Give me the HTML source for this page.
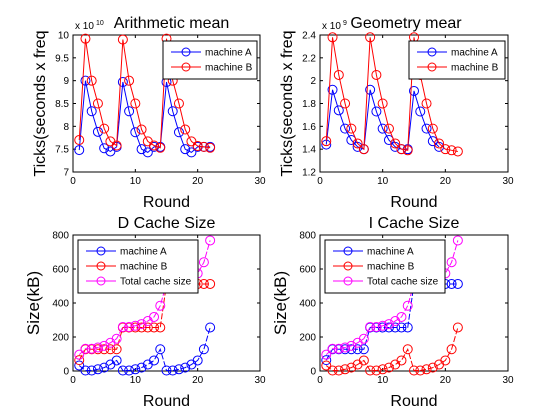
<!DOCTYPE html>
<html><head><meta charset="utf-8"><style>
html,body{margin:0;padding:0;background:#fff;width:560px;height:420px;overflow:hidden}
svg{font-family:"Liberation Sans",sans-serif}
</style></head><body>
<svg id="fig" width="560" height="420"></svg>
<script>
const rounds=[1,2,3,4,5,6,7,8,9,10,11,12,13,14,15,16,17,18,19,20,21,22];
const arithA=[7.48,9.0,8.33,7.88,7.52,7.45,7.55,8.97,8.33,7.87,7.5,7.43,7.55,7.55,8.97,8.33,7.87,7.5,7.43,7.55,7.55,7.55];
const arithB=[7.7,9.92,9.0,8.5,7.95,7.67,7.58,9.9,9.0,8.5,7.93,7.67,7.58,7.53,9.92,9.0,8.5,7.93,7.67,7.57,7.55,7.53];
const geoA=[1.44,1.92,1.74,1.58,1.48,1.42,1.40,1.92,1.73,1.58,1.48,1.42,1.40,1.40,1.91,1.73,1.58,1.47,1.42];
const geoB=[1.47,2.38,2.05,1.80,1.58,1.45,1.40,2.38,2.05,1.80,1.58,1.45,1.40,1.39,2.38,2.05,1.80,1.58,1.45,1.40,1.39,1.38];
const dA=[32,3,3,10,20,38,62,3,3,10,20,38,62,128,3,3,10,20,38,62,128,256];
const dB=[64,128,128,128,128,128,128,256,256,256,256,256,256,256,512,512,512,512,512,512,512,512];
const dT=[96,131,131,138,148,166,190,259,259,266,276,294,318,384,515,515,522,532,550,574,640,768];
const iA=[64,128,128,128,128,128,128,256,256,256,256,256,256,256,512,512,512,512,512,512,512,512];
const iB=[32,3,3,10,20,38,62,3,3,10,20,38,62,128,3,3,10,20,38,62,128,256];
const iT=[96,131,131,138,148,166,190,259,259,266,276,294,318,384,515,515,522,532,550,574,640,768];
const xTicks=[0,10,20,30];
const arithTicks=["7","7.5","8","8.5","9","9.5","10"];
const geoTicks=["1.2","1.4","1.6","1.8","2","2.2","2.4"];
const cacheTicks=["0","200","400","600","800"];

const NS="http://www.w3.org/2000/svg";
const svg=document.getElementById('fig');
function mk(tag,at,parent){const e=document.createElementNS(NS,tag);for(const k in at)e.setAttribute(k,at[k]);(parent||svg).appendChild(e);return e;}
function txt(s,at,parent){const e=mk('text',at,parent);e.textContent=s;return e;}

function panel(o){
  const g=mk('g',{});
  
  
  const L=o.x0,R=o.x1,T=o.y0,B=o.y1;
  const sx=v=>L+(v-0)/30*(R-L);
  const sy=v=>B-(v-o.ymin)/(o.ymax-o.ymin)*(B-T);
  const ax=mk('rect',{x:L,y:T,width:R-L,height:B-T,fill:'#fff',stroke:'#000','stroke-width':1},g);
  
  
  xTicks.forEach(t=>{const x=sx(t);
    mk('line',{x1:x,y1:B,x2:x,y2:B-3,stroke:'#000'},g);mk('line',{x1:x,y1:T,x2:x,y2:T+3,stroke:'#000'},g);
    const tl=txt(String(t),{x:x,y:B+12,'font-size':10,'text-anchor':'middle'},g);
    
    });
  o.yt.forEach(t=>{const y=sy(parseFloat(t));
    mk('line',{x1:L,y1:y,x2:L+3,y2:y,stroke:'#000'},g);mk('line',{x1:R,y1:y,x2:R-3,y2:y,stroke:'#000'},g);
    const tl=txt(t,{x:L-4,y:y+3.5,'font-size':10,'text-anchor':'end'},g);
    
    });
  const t1=txt(o.title,{x:(L+R)/2+o.toff,y:T-7,'font-size':16,'text-anchor':'middle'},g);
  
  
  const xl=txt('Round',{x:(L+R)/2,y:B+35,'font-size':16,'text-anchor':'middle'},g);
  
  
  const yl=txt(o.ylab,{x:0,y:0,'font-size':o.yfs,'text-anchor':'middle',transform:`translate(${L-o.ylx},${(T+B)/2}) rotate(-90)`},g);
  
  
  if(o.exp){const ex=txt('x 10',{x:L+2,y:T-6,'font-size':10},g);
    
    
    txt(o.exp,{x:L+23,y:T-10,'font-size':7},g);}
  o.series.forEach(s=>{
    const sg=mk('g',{},g);
    
    
    const pts=s.data.map((v,i)=>sx(rounds[i])+','+sy(v)).join(' ');
    mk('polyline',{points:pts,fill:'none',stroke:s.c,'stroke-width':1,'stroke-dasharray':o.dash||'none'},sg);
    s.data.forEach((v,i)=>mk('circle',{cx:sx(rounds[i]),cy:sy(v),r:4.5,fill:'none',stroke:s.c,'stroke-width':1},sg));
  });
  const lg=mk('g',{},g);
  
  
  mk('rect',{x:o.lx,y:o.ly,width:o.lw,height:o.series.length*15+8,fill:'#fff',stroke:'#000'},lg);
  o.series.forEach((s,i)=>{const y=o.ly+11+i*15;
    mk('line',{x1:o.lx+8,y1:y,x2:o.lx+38,y2:y,stroke:s.c},lg);
    mk('circle',{cx:o.lx+23,cy:y,r:4,fill:'none',stroke:s.c},lg);
    txt(s.label,{x:o.lx+42,y:y+3.5,'font-size':10},lg);});
}
panel({name:'arithmetic-mean-chart',x0:73,x1:260,y0:35,y1:172,ymin:7,ymax:10,yt:arithTicks,title:'Arithmetic mean',toff:5,ylab:'Ticks(seconds x freq',ylx:28,yfs:16,exp:'10',
  lx:163,ly:41,lw:94,series:[{name:'series-machine-a',label:'machine A',c:'#0000ff',data:arithA},{name:'series-machine-b',label:'machine B',c:'#ff0000',data:arithB}]});
panel({name:'geometry-mean-chart',x0:320,x1:508,y0:35,y1:172,ymin:1.2,ymax:2.4,yt:geoTicks,title:'Geometry mear',toff:-8,ylab:'Ticks(seconds x freq',ylx:28,yfs:16,exp:'9',
  lx:409,ly:41,lw:96,series:[{name:'series-machine-a',label:'machine A',c:'#0000ff',data:geoA},{name:'series-machine-b',label:'machine B',c:'#ff0000',data:geoB}]});
panel({name:'d-cache-size-chart',x0:73,x1:260,y0:235,y1:371,ymin:0,ymax:800,yt:cacheTicks,title:'D Cache Size',toff:0,ylab:'Size(kB)',ylx:34,yfs:17,dash:'6,2',
  lx:78,ly:240,lw:120,series:[{name:'series-machine-a',label:'machine A',c:'#0000ff',data:dA},{name:'series-machine-b',label:'machine B',c:'#ff0000',data:dB},{name:'series-total',label:'Total cache size',c:'#ff00ff',data:dT}]});
panel({name:'i-cache-size-chart',x0:320,x1:508,y0:235,y1:371,ymin:0,ymax:800,yt:cacheTicks,title:'I Cache Size',toff:0,ylab:'Size(kB)',ylx:34,yfs:17,dash:'6,2',
  lx:325,ly:240,lw:120,series:[{name:'series-machine-a',label:'machine A',c:'#0000ff',data:iA},{name:'series-machine-b',label:'machine B',c:'#ff0000',data:iB},{name:'series-total',label:'Total cache size',c:'#ff00ff',data:iT}]});
</script>
</body></html>
